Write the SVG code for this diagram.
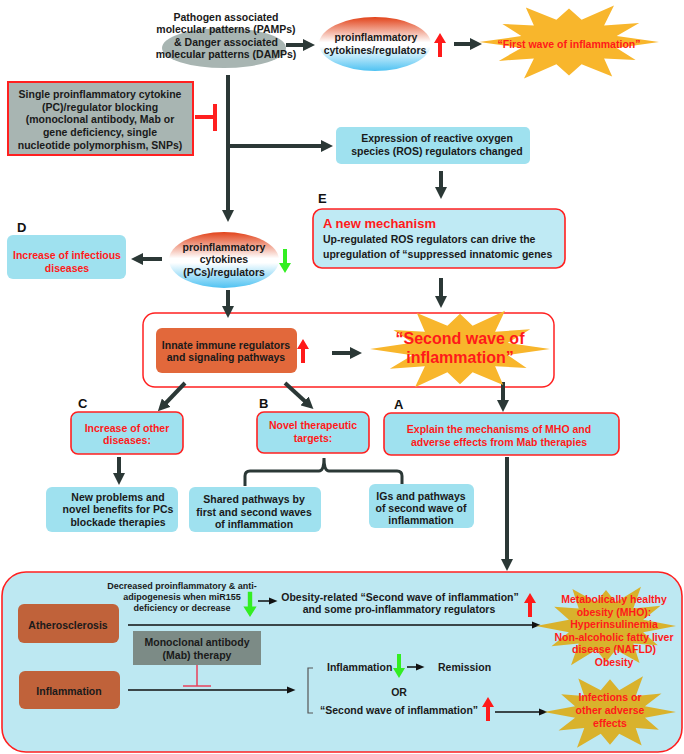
<svg xmlns="http://www.w3.org/2000/svg" xmlns:xlink="http://www.w3.org/1999/xlink" width="684" height="754" viewBox="0 0 684 754">
<style>
text{font-family:"Liberation Sans",Arial,sans-serif;font-weight:bold;font-size:10.5px;fill:#1a1a1a}
.c{text-anchor:middle}
.r{fill:#ff1a1a}
.lbl{font-size:13px;fill:#111}
.big{font-size:16px;fill:#ff1a1a}
.sm{font-size:9px}
.cy{fill:#9fe1ef}
.cyr{fill:#9fe1ef;stroke:#ff2020;stroke-width:1.6}
.thick{stroke:#2b3836;stroke-width:4;fill:none}
.thin{stroke:#111;stroke-width:1.5;fill:none}
</style>
<defs>
<linearGradient id="gr" x1="0" y1="0" x2="0" y2="1">
<stop offset="0" stop-color="#e2431a"/>
<stop offset="0.47" stop-color="#ffffff"/>
<stop offset="0.55" stop-color="#ffffff"/>
<stop offset="1" stop-color="#4fc2f2"/>
</linearGradient>
<polygon id="star" points="100,0 53,14 74,43 39,39 48,82 14,53 0,80 -14,53 -50,87 -39,39 -78,45 -53,14 -100,0 -53,-14 -74,-43 -39,-39 -48,-82 -14,-53 0,-80 14,-53 50,-87 39,-39 78,-45 53,-14"/>
<polygon id="up" points="0,0 6,10 2,10 2,24 -2,24 -2,10 -6,10"/>
<marker id="ah" viewBox="0 0 10 10" refX="5" refY="5" markerWidth="12" markerHeight="12" markerUnits="userSpaceOnUse" orient="auto"><path d="M0,0 L10,5 L0,10 z" fill="#2b3836"/></marker>
<marker id="as" viewBox="0 0 10 10" refX="5" refY="5" markerWidth="9" markerHeight="9" markerUnits="userSpaceOnUse" orient="auto"><path d="M0,1 L10,5 L0,9 z" fill="#111"/></marker>
</defs>

<!-- bottom container -->
<g id="bottom-panel">
<rect x="2" y="572" width="680" height="180" rx="24" fill="#bde8f2" stroke="#ff2020" stroke-width="1.6"/>
</g>

<!-- second wave container -->
<g id="second-wave-container">
<rect x="143" y="313" width="411" height="74" rx="12" fill="#ffffff" stroke="#ff2020" stroke-width="1.5"/>
</g>

<g id="connectors">
<line class="thick" x1="286" y1="45" x2="309" y2="45" marker-end="url(#ah)"/>
<line class="thick" x1="454" y1="44" x2="476" y2="44" marker-end="url(#ah)"/>
<line class="thick" x1="228" y1="75" x2="228" y2="216" marker-end="url(#ah)"/>
<line class="thick" x1="226" y1="146" x2="327" y2="146" marker-end="url(#ah)"/>
<line x1="195" y1="117" x2="215" y2="117" stroke="#ff2020" stroke-width="4"/>
<line x1="215" y1="104" x2="215" y2="131" stroke="#ff2020" stroke-width="4"/>
<line class="thick" x1="441" y1="171" x2="441" y2="193" marker-end="url(#ah)"/>
<line class="thick" x1="441" y1="278" x2="441" y2="302" marker-end="url(#ah)"/>
<line class="thick" x1="162" y1="259" x2="137" y2="259" marker-end="url(#ah)"/>
<line class="thick" x1="228" y1="290" x2="228" y2="312" marker-end="url(#ah)"/>
<line class="thick" x1="332" y1="353" x2="356" y2="353" marker-end="url(#ah)"/>
<line class="thick" x1="185" y1="383" x2="162" y2="407" marker-end="url(#ah)"/>
<line class="thick" x1="285" y1="383" x2="309" y2="405" marker-end="url(#ah)"/>
<line class="thick" x1="503" y1="382" x2="503" y2="406" marker-end="url(#ah)"/>
<line class="thick" x1="119" y1="457" x2="119" y2="479" marker-end="url(#ah)"/>
<path d="M245,486 V476 Q245,471 250,471 H319 Q324,471 324,458 Q324,471 329,471 H397 Q402,471 402,476 V486" stroke="#2b3836" stroke-width="3" fill="none"/>
<line class="thick" x1="507" y1="457" x2="507" y2="565" marker-end="url(#ah)"/>
<line class="thin" x1="258" y1="601" x2="273" y2="601" marker-end="url(#as)"/>
<line class="thin" x1="128" y1="625" x2="536" y2="625" marker-end="url(#as)"/>
<line class="thin" x1="128" y1="690" x2="291" y2="690" marker-end="url(#as)"/>
<line class="thin" x1="407" y1="667" x2="420" y2="667" marker-end="url(#as)"/>
<line class="thin" x1="495" y1="712" x2="543" y2="712" marker-end="url(#as)"/>
<line x1="197" y1="665" x2="197" y2="686" stroke="#e8405a" stroke-width="1.5"/>
<line x1="183" y1="686" x2="211" y2="686" stroke="#e8405a" stroke-width="1.5"/>
<path d="M313,668 H308 V713 H313" stroke="#555" stroke-width="1.2" fill="none"/>
</g>

<g id="pamps">
<ellipse cx="224" cy="48" rx="62" ry="20" fill="#a8b5b2"/>
<text class="c" x="226" y="21">Pathogen associated</text>
<text class="c" x="226" y="33">molecular patterns (PAMPs)</text>
<text class="c" x="226" y="46">&amp; Danger associated</text>
<text class="c" x="226" y="58">molecular patterns (DAMPs)</text>
</g>

<g id="pc-top">
<ellipse cx="375" cy="44" rx="56" ry="27" fill="url(#gr)"/>
<text class="c" x="376" y="41">proinflammatory</text>
<text class="c" x="375" y="54">cytokines/regulators</text>
<use href="#up" transform="translate(440,33)" fill="#ff1a1a"/>
</g>

<g id="first-wave">
<use href="#star" transform="translate(569,42) scale(0.9,0.42)" fill="#f8b62c"/>
<text class="c r" x="569" y="48">“First wave of inflammation”</text>
</g>

<g id="blocking">
<rect x="8" y="82" width="185" height="73" fill="#a8b5b2" stroke="#ff2020" stroke-width="2"/>
<text class="c" x="100" y="98">Single proinflammatory cytokine</text>
<text class="c" x="100" y="111">(PC)/regulator blocking</text>
<text class="c" x="100" y="123">(monoclonal antibody, Mab or</text>
<text class="c" x="100" y="136">gene deficiency, single</text>
<text class="c" x="100" y="149">nucleotide polymorphism, SNPs)</text>
</g>

<g id="ros">
<rect class="cy" x="336" y="127" width="194" height="37" rx="5"/>
<text class="c" x="437" y="142">Expression of reactive oxygen</text>
<text class="c" x="437" y="155">species (ROS) regulators changed</text>
</g>

<g id="new-mechanism">
<text class="lbl" x="318" y="203">E</text>
<rect x="313" y="209" width="252" height="59" rx="9" fill="#bfeaf4" stroke="#ff2020" stroke-width="1.6"/>
<text x="323" y="228" style="font-size:13px;fill:#ff1a1a">A new mechanism</text>
<text x="323" y="243">Up-regulated ROS regulators can drive the</text>
<text x="323" y="258">upregulation of “suppressed innatomic genes</text>
</g>

<g id="infectious">
<text class="lbl" x="17" y="232">D</text>
<rect class="cy" x="7" y="235" width="119" height="44" rx="6"/>
<text class="c r" x="67" y="259">Increase of infectious</text>
<text class="c r" x="67" y="272">diseases</text>
</g>

<g id="pc-mid">
<ellipse cx="224" cy="260" rx="55" ry="28" fill="url(#gr)"/>
<text class="c" x="224" y="251">proinflammatory</text>
<text class="c" x="224" y="263">cytokines</text>
<text class="c" x="224" y="276">(PCs)/regulators</text>
<use href="#up" transform="translate(285,273) scale(1,-1)" fill="#33ee22"/>
</g>

<g id="innate">
<rect x="156" y="328" width="141" height="45" rx="6" fill="#e2683b"/>
<text class="c" x="226" y="349">Innate immune regulators</text>
<text class="c" x="226" y="361">and signaling pathways</text>
<use href="#up" transform="translate(303,339)" fill="#ff1a1a"/>
</g>

<g id="second-wave">
<use href="#star" transform="translate(460,349) scale(0.9,0.44)" fill="#f8b62c"/>
<text class="c big" x="460" y="344">“Second wave of</text>
<text class="c big" x="460" y="363">inflammation”</text>
</g>

<g id="other-diseases">
<text class="lbl" x="78" y="408">C</text>
<rect class="cyr" x="71" y="412" width="112" height="42" rx="7"/>
<text class="c r" x="127" y="432">Increase of other</text>
<text class="c r" x="127" y="444">diseases:</text>
</g>

<g id="targets">
<text class="lbl" x="259" y="408">B</text>
<rect class="cyr" x="257" y="412" width="112" height="41" rx="7"/>
<text class="c r" x="313" y="429">Novel therapeutic</text>
<text class="c r" x="313" y="442">targets:</text>
</g>

<g id="explain">
<text class="lbl" x="394" y="409">A</text>
<rect class="cyr" x="384" y="413" width="235" height="42" rx="7"/>
<text class="c r" x="499" y="433">Explain the mechanisms of MHO and</text>
<text class="c r" x="499" y="446">adverse effects from Mab therapies</text>
</g>

<g id="new-problems">
<rect class="cy" x="46" y="487" width="132" height="45" rx="6"/>
<text class="c" x="118" y="501">New problems and</text>
<text class="c" x="118" y="513">novel benefits for PCs</text>
<text class="c" x="118" y="526">blockade therapies</text>
</g>

<g id="shared">
<rect class="cy" x="189" y="487" width="132" height="45" rx="6"/>
<text class="c" x="254" y="503">Shared pathways  by</text>
<text class="c" x="254" y="516">first and second waves</text>
<text class="c" x="254" y="528">of inflammation</text>
</g>

<g id="igs">
<rect class="cy" x="369" y="484" width="105" height="44" rx="6"/>
<text class="c" x="421" y="500">IGs and pathways</text>
<text class="c" x="421" y="512">of second wave of</text>
<text class="c" x="421" y="524">inflammation</text>
</g>

<g id="atherosclerosis">
<rect x="18" y="604" width="101" height="39" rx="6" fill="#c0623a"/>
<text class="c" x="68" y="629">Atherosclerosis</text>
</g>

<g id="inflammation">
<rect x="19" y="671" width="101" height="38" rx="6" fill="#c0623a"/>
<text class="c" x="69" y="695">Inflammation</text>
</g>

<g id="mirna">
<text class="c sm" x="182" y="589">Decreased proinflammatory &amp; anti-</text>
<text class="c sm" x="182" y="600">adipogenesis when miR155</text>
<text class="c sm" x="182" y="611">deficiency or decrease</text>
<use href="#up" transform="translate(250,617) scale(1.1,-1.05)" fill="#33ee22"/>
</g>

<g id="obesity-related">
<text class="c" x="400" y="601">Obesity-related “Second wave of inflammation”</text>
<text class="c" x="399" y="613">and some pro-inflammatory regulators</text>
<use href="#up" transform="translate(530,593)" fill="#ff1a1a"/>
</g>

<g id="mab">
<rect x="133" y="631" width="128" height="34" fill="#7c8b86"/>
<text class="c" x="197" y="646">Monoclonal antibody</text>
<text class="c" x="197" y="659">(Mab) therapy</text>
</g>

<g id="outcomes">
<text x="327" y="671">Inflammation</text>
<use href="#up" transform="translate(399,678) scale(1,-1)" fill="#33ee22"/>
<text x="438" y="671">Remission</text>
<text class="c" x="399" y="696">OR</text>
<text x="320" y="714">“Second wave of inflammation”</text>
<use href="#up" transform="translate(488,697)" fill="#ff1a1a"/>
</g>

<g id="mho">
<use href="#star" transform="translate(606,626) scale(0.7,0.45)" fill="#d9b22c"/>
<text class="c r" x="614" y="603">Metabolically healthy</text>
<text class="c r" x="614" y="616">obesity (MHO):</text>
<text class="c r" x="614" y="628">Hyperinsulinemia</text>
<text class="c r" x="614" y="641">Non-alcoholic fatty liver</text>
<text class="c r" x="614" y="653">disease (NAFLD)</text>
<text class="c r" x="614" y="666">Obesity</text>
</g>

<g id="adverse">
<use href="#star" transform="translate(610,712) scale(0.66,0.41)" fill="#d9b22c"/>
<text class="c r" x="610" y="701">Infections or</text>
<text class="c r" x="610" y="714">other adverse</text>
<text class="c r" x="610" y="727">effects</text>
</g>
</svg>
